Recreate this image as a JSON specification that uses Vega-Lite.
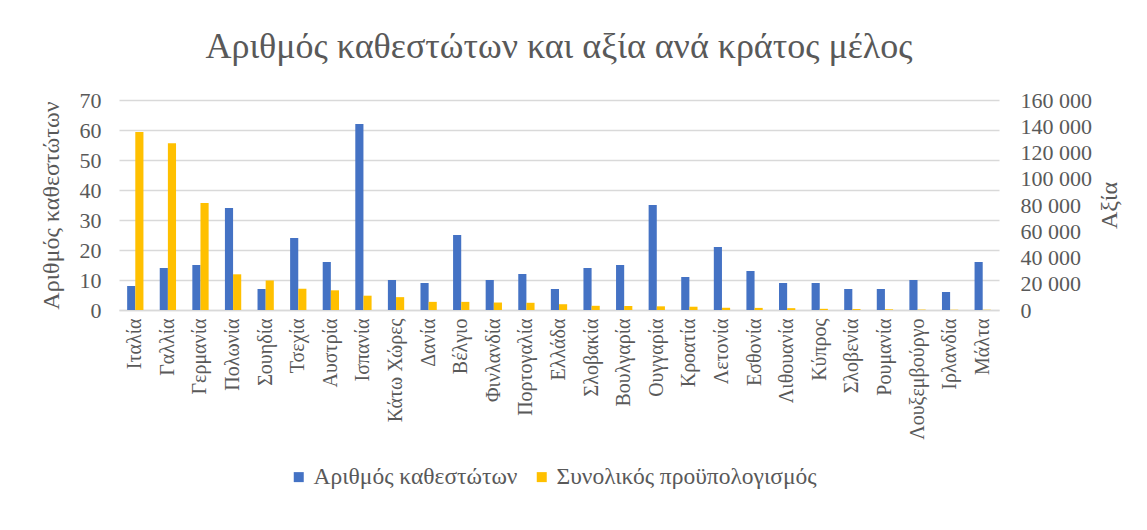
{
  "$schema": "https://vega.github.io/schema/vega-lite/v6.json",
  "autosize": {"type": "none"},
  "width": 880,
  "height": 210,
  "padding": {"left": 119, "top": 100, "right": 148, "bottom": 220},
  "background": "white",
  "title": {
    "text": "Αριθμός καθεστώτων και αξία ανά κράτος μέλος",
    "font": "Liberation Serif",
    "fontSize": 36,
    "fontWeight": "normal",
    "color": "#595959",
    "anchor": "middle",
    "offset": 23
  },
  "config": {
    "view": {"stroke": null},
    "axis": {
      "labelFont": "Liberation Serif",
      "titleFont": "Liberation Serif",
      "labelColor": "#595959",
      "titleColor": "#595959",
      "titleFontWeight": "normal",
      "ticks": false,
      "domain": false,
      "gridColor": "#D9D9D9",
      "gridWidth": 1.3
    },
    "legend": {
      "labelFont": "Liberation Serif",
      "labelColor": "#595959",
      "labelFontSize": 23.5,
      "labelLimit": 0
    }
  },
  "data": {
    "values": [
      {"country": "Ιταλία", "series": "Αριθμός καθεστώτων", "value": 8},
      {"country": "Γαλλία", "series": "Αριθμός καθεστώτων", "value": 14},
      {"country": "Γερμανία", "series": "Αριθμός καθεστώτων", "value": 15},
      {"country": "Πολωνία", "series": "Αριθμός καθεστώτων", "value": 34},
      {"country": "Σουηδία", "series": "Αριθμός καθεστώτων", "value": 7},
      {"country": "Τσεχία", "series": "Αριθμός καθεστώτων", "value": 24},
      {"country": "Αυστρία", "series": "Αριθμός καθεστώτων", "value": 16},
      {"country": "Ισπανία", "series": "Αριθμός καθεστώτων", "value": 62},
      {"country": "Κάτω Χώρες", "series": "Αριθμός καθεστώτων", "value": 10},
      {"country": "Δανία", "series": "Αριθμός καθεστώτων", "value": 9},
      {"country": "Βέλγιο", "series": "Αριθμός καθεστώτων", "value": 25},
      {"country": "Φινλανδία", "series": "Αριθμός καθεστώτων", "value": 10},
      {"country": "Πορτογαλία", "series": "Αριθμός καθεστώτων", "value": 12},
      {"country": "Ελλάδα", "series": "Αριθμός καθεστώτων", "value": 7},
      {"country": "Σλοβακία", "series": "Αριθμός καθεστώτων", "value": 14},
      {"country": "Βουλγαρία", "series": "Αριθμός καθεστώτων", "value": 15},
      {"country": "Ουγγαρία", "series": "Αριθμός καθεστώτων", "value": 35},
      {"country": "Κροατία", "series": "Αριθμός καθεστώτων", "value": 11},
      {"country": "Λετονία", "series": "Αριθμός καθεστώτων", "value": 21},
      {"country": "Εσθονία", "series": "Αριθμός καθεστώτων", "value": 13},
      {"country": "Λιθουανία", "series": "Αριθμός καθεστώτων", "value": 9},
      {"country": "Κύπρος", "series": "Αριθμός καθεστώτων", "value": 9},
      {"country": "Σλοβενία", "series": "Αριθμός καθεστώτων", "value": 7},
      {"country": "Ρουμανία", "series": "Αριθμός καθεστώτων", "value": 7},
      {"country": "Λουξεμβούργο", "series": "Αριθμός καθεστώτων", "value": 10},
      {"country": "Ιρλανδία", "series": "Αριθμός καθεστώτων", "value": 6},
      {"country": "Μάλτα", "series": "Αριθμός καθεστώτων", "value": 16},
      {"country": "Ιταλία", "series": "Συνολικός προϋπολογισμός", "value": 135600},
      {"country": "Γαλλία", "series": "Συνολικός προϋπολογισμός", "value": 127000},
      {"country": "Γερμανία", "series": "Συνολικός προϋπολογισμός", "value": 81500},
      {"country": "Πολωνία", "series": "Συνολικός προϋπολογισμός", "value": 27200},
      {"country": "Σουηδία", "series": "Συνολικός προϋπολογισμός", "value": 22500},
      {"country": "Τσεχία", "series": "Συνολικός προϋπολογισμός", "value": 16200},
      {"country": "Αυστρία", "series": "Συνολικός προϋπολογισμός", "value": 15000},
      {"country": "Ισπανία", "series": "Συνολικός προϋπολογισμός", "value": 10900},
      {"country": "Κάτω Χώρες", "series": "Συνολικός προϋπολογισμός", "value": 9800},
      {"country": "Δανία", "series": "Συνολικός προϋπολογισμός", "value": 6200},
      {"country": "Βέλγιο", "series": "Συνολικός προϋπολογισμός", "value": 6200},
      {"country": "Φινλανδία", "series": "Συνολικός προϋπολογισμός", "value": 5700},
      {"country": "Πορτογαλία", "series": "Συνολικός προϋπολογισμός", "value": 5500},
      {"country": "Ελλάδα", "series": "Συνολικός προϋπολογισμός", "value": 4400},
      {"country": "Σλοβακία", "series": "Συνολικός προϋπολογισμός", "value": 3200},
      {"country": "Βουλγαρία", "series": "Συνολικός προϋπολογισμός", "value": 3000},
      {"country": "Ουγγαρία", "series": "Συνολικός προϋπολογισμός", "value": 2800},
      {"country": "Κροατία", "series": "Συνολικός προϋπολογισμός", "value": 2500},
      {"country": "Λετονία", "series": "Συνολικός προϋπολογισμός", "value": 1700},
      {"country": "Εσθονία", "series": "Συνολικός προϋπολογισμός", "value": 1600},
      {"country": "Λιθουανία", "series": "Συνολικός προϋπολογισμός", "value": 1400},
      {"country": "Κύπρος", "series": "Συνολικός προϋπολογισμός", "value": 900},
      {"country": "Σλοβενία", "series": "Συνολικός προϋπολογισμός", "value": 700},
      {"country": "Ρουμανία", "series": "Συνολικός προϋπολογισμός", "value": 500},
      {"country": "Λουξεμβούργο", "series": "Συνολικός προϋπολογισμός", "value": 300},
      {"country": "Ιρλανδία", "series": "Συνολικός προϋπολογισμός", "value": 200},
      {"country": "Μάλτα", "series": "Συνολικός προϋπολογισμός", "value": 200}
    ]
  },
  "encoding": {
    "x": {
      "field": "country",
      "type": "nominal",
      "scale": {
        "domain": ["Ιταλία", "Γαλλία", "Γερμανία", "Πολωνία", "Σουηδία", "Τσεχία", "Αυστρία", "Ισπανία", "Κάτω Χώρες", "Δανία", "Βέλγιο", "Φινλανδία", "Πορτογαλία", "Ελλάδα", "Σλοβακία", "Βουλγαρία", "Ουγγαρία", "Κροατία", "Λετονία", "Εσθονία", "Λιθουανία", "Κύπρος", "Σλοβενία", "Ρουμανία", "Λουξεμβούργο", "Ιρλανδία", "Μάλτα"],
        "paddingInner": 0.5,
        "paddingOuter": 0.25
      },
      "axis": {
        "title": null,
        "labelAngle": -90,
        "labelFontSize": 20,
        "labelPadding": 8,
        "domain": true,
        "domainColor": "#D9D9D9",
        "domainWidth": 1.3
      }
    },
    "xOffset": {
      "field": "series",
      "type": "nominal",
      "scale": {"domain": ["Αριθμός καθεστώτων", "Συνολικός προϋπολογισμός"], "paddingInner": 0, "paddingOuter": 0}
    },
    "color": {
      "field": "series",
      "type": "nominal",
      "scale": {"domain": ["Αριθμός καθεστώτων", "Συνολικός προϋπολογισμός"], "range": ["#4472C4", "#FFC000"]},
      "legend": {
        "title": null,
        "orient": "none",
        "direction": "horizontal",
        "legendX": 168,
        "legendY": 365,
        "symbolType": "square",
        "symbolSize": 100,
        "symbolStrokeWidth": 0,
        "columnPadding": 12,
        "labelOffset": 3
      }
    }
  },
  "layer": [
    {
      "transform": [{"filter": "datum.series === 'Αριθμός καθεστώτων'"}],
      "mark": {"type": "bar"},
      "encoding": {
        "y": {
          "field": "value",
          "type": "quantitative",
          "scale": {"domain": [0, 70]},
          "axis": {
            "title": "Αριθμός καθεστώτων",
            "titleFontSize": 24,
            "labelFontSize": 22,
            "labelPadding": 18,
            "titlePadding": 16,
            "values": [0, 10, 20, 30, 40, 50, 60, 70],
            "grid": true
          }
        }
      }
    },
    {
      "transform": [{"filter": "datum.series === 'Συνολικός προϋπολογισμός'"}],
      "mark": {"type": "bar"},
      "encoding": {
        "y": {
          "field": "value",
          "type": "quantitative",
          "scale": {"domain": [0, 160000]},
          "axis": {
            "orient": "right",
            "title": "Αξία",
            "titleFontSize": 24,
            "labelFontSize": 22,
            "labelPadding": 21,
            "titlePadding": 6,
            "titleAngle": -90,
            "titleBaseline": "top",
            "values": [0, 20000, 40000, 60000, 80000, 100000, 120000, 140000, 160000],
            "labelExpr": "replace(format(datum.value, ','), ',', ' ')",
            "grid": false
          }
        }
      }
    }
  ],
  "resolve": {"scale": {"y": "independent"}}
}
